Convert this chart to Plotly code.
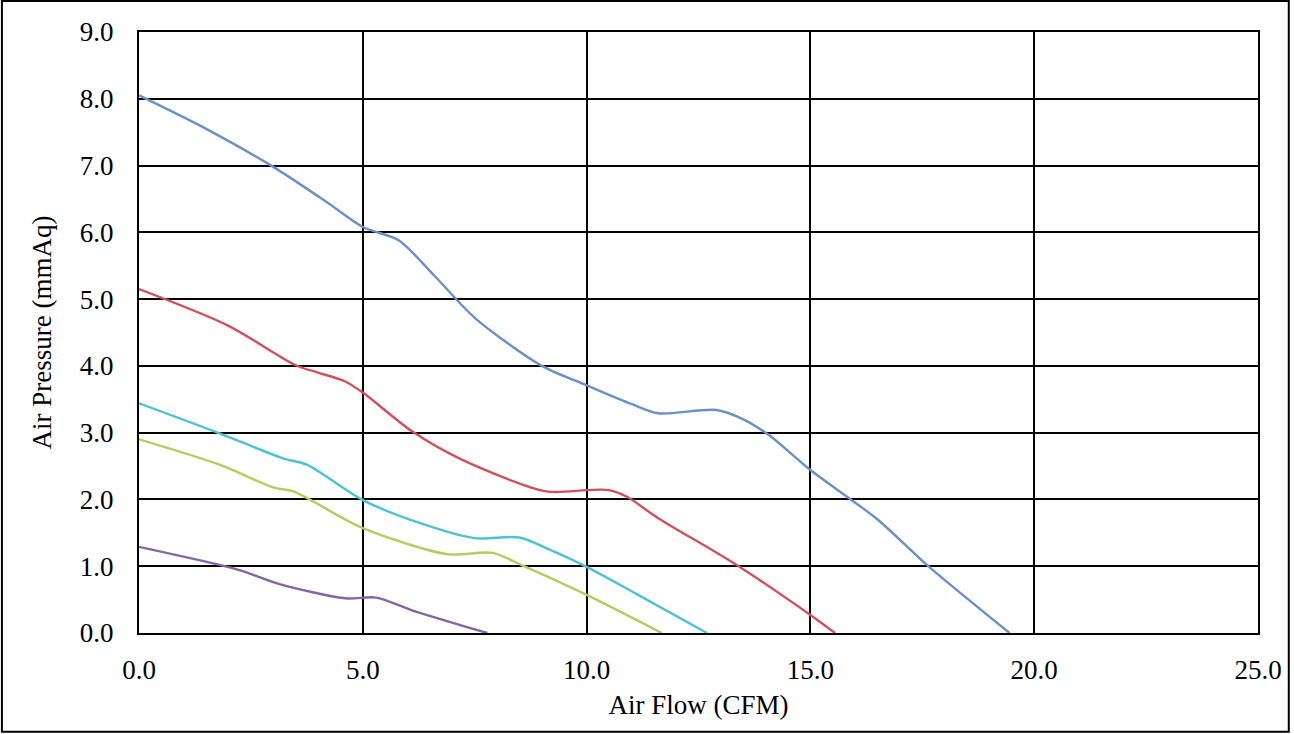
import plotly.graph_objects as go

# fan P-Q curves (CFM, mmAq)
flow_a = [0.0, 1.5, 3.0, 4.2, 5.0, 5.8, 6.6, 7.5, 9.0, 10.0, 11.0, 11.6, 12.9, 13.5, 14.1, 15.0, 16.5, 17.6, 19.45]
press_a = [8.05, 7.55, 6.98, 6.45, 6.08, 5.88, 5.35, 4.72, 4.0, 3.71, 3.43, 3.29, 3.34, 3.2, 2.95, 2.44, 1.7, 1.02, 0.0]

flow_b = [0.0, 2.0, 3.5, 4.0, 4.6, 5.0, 6.1, 7.2, 9.1, 10.0, 10.5, 10.9, 11.6, 13.3, 15.0, 15.55]
press_b = [5.15, 4.6, 4.01, 3.9, 3.77, 3.6, 3.02, 2.6, 2.12, 2.14, 2.14, 2.04, 1.72, 1.04, 0.27, 0.0]

flow_c = [0.0, 1.8, 3.2, 3.75, 5.0, 6.3, 7.5, 8.5, 9.2, 10.0, 11.1, 12.69]
press_c = [3.44, 2.99, 2.62, 2.52, 1.99, 1.64, 1.42, 1.43, 1.24, 0.99, 0.59, 0.0]

flow_d = [0.0, 1.8, 3.0, 3.45, 5.0, 6.9, 7.9, 8.6, 10.0, 11.68]
press_d = [2.9, 2.52, 2.18, 2.12, 1.57, 1.18, 1.2, 1.0, 0.57, 0.0]

flow_e = [0.0, 1.8, 2.3, 3.1, 4.6, 5.3, 6.1, 7.78]
press_e = [1.29, 1.02, 0.93, 0.74, 0.52, 0.53, 0.34, 0.0]

x_ticks = [0, 5, 10, 15, 20, 25]
y_ticks = [0, 1, 2, 3, 4, 5, 6, 7, 8, 9]

series = [
    (flow_a, press_a, "#6B8FCA"),
    (flow_b, press_b, "#D0505C"),
    (flow_c, press_c, "#4CC3D3"),
    (flow_d, press_d, "#B5CC5F"),
    (flow_e, press_e, "#8266A4"),
]

fnt = "Liberation Serif"

fig = go.Figure()
for xs, ys, col in series:
    fig.add_trace(go.Scatter(x=xs, y=ys, mode="lines",
                             line=dict(color=col, width=2.4, shape="spline", smoothing=0.8),
                             showlegend=False, hoverinfo="skip"))

fig.update_xaxes(
    range=[0, 25], tickvals=x_ticks, ticktext=["%.1f" % v for v in x_ticks],
    showgrid=True, gridcolor="black", gridwidth=2,
    showline=True, linecolor="black", linewidth=2, mirror=True,
    zeroline=False, ticks="", ticklabelstandoff=12,
    tickfont=dict(family=fnt, size=27, color="black"),
    title=dict(text="Air Flow (CFM)", font=dict(family=fnt, size=27, color="black"), standoff=11),
)
fig.update_yaxes(
    range=[0, 9], tickvals=y_ticks, ticktext=["%.1f" % v for v in y_ticks],
    showgrid=True, gridcolor="black", gridwidth=2,
    showline=True, linecolor="black", linewidth=2, mirror=True,
    zeroline=False, ticks="", ticklabelstandoff=18,
    tickfont=dict(family=fnt, size=27, color="black"),
    title=dict(text="Air Pressure (mmAq)", font=dict(family=fnt, size=27, color="black"), standoff=20),
)

# outer frame round the whole chart
fig.add_shape(type="rect", xref="paper", yref="paper",
              x0=-0.1225, x1=1.0275, y0=-0.1645, y1=1.0515,
              line=dict(color="black", width=2))

fig.update_layout(
    width=1294, height=734,
    margin=dict(l=139, r=33, t=32, b=101),
    paper_bgcolor="white", plot_bgcolor="white",
)

fig.write_html("out.html", config={"displayModeBar": False},
               post_script="document.body.style.margin='0';")
